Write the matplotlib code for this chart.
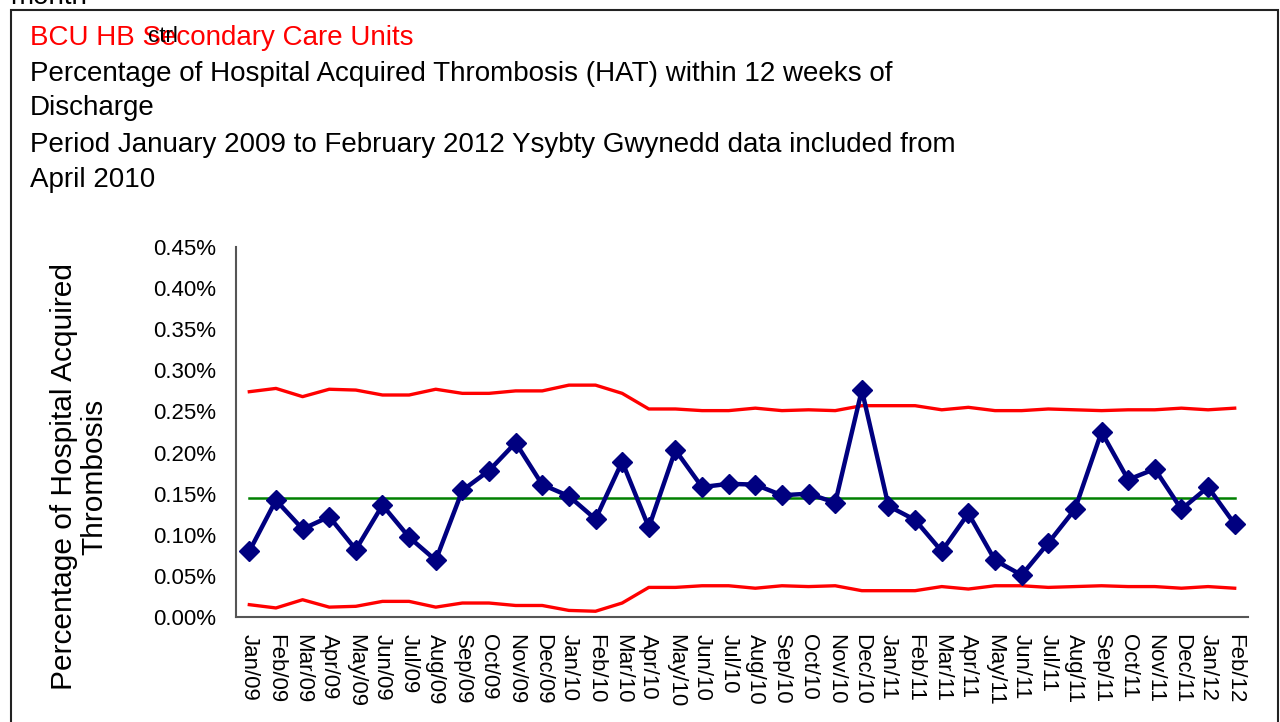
import matplotlib
matplotlib.use("Agg")
import matplotlib.pyplot as plt
from matplotlib.ticker import PercentFormatter, FixedLocator
from matplotlib.patches import Rectangle

plt.rcParams['font.family'] = ['Liberation Sans', 'DejaVu Sans']

months = ["Jan/09", "Feb/09", "Mar/09", "Apr/09", "May/09", "Jun/09", "Jul/09", "Aug/09",
          "Sep/09", "Oct/09", "Nov/09", "Dec/09", "Jan/10", "Feb/10", "Mar/10", "Apr/10",
          "May/10", "Jun/10", "Jul/10", "Aug/10", "Sep/10", "Oct/10", "Nov/10", "Dec/10",
          "Jan/11", "Feb/11", "Mar/11", "Apr/11", "May/11", "Jun/11", "Jul/11", "Aug/11",
          "Sep/11", "Oct/11", "Nov/11", "Dec/11", "Jan/12", "Feb/12"]

hat_pct = [0.080, 0.142, 0.107, 0.122, 0.082, 0.136, 0.097, 0.069,
           0.154, 0.178, 0.212, 0.161, 0.147, 0.119, 0.189, 0.109,
           0.203, 0.158, 0.162, 0.161, 0.148, 0.150, 0.139, 0.276,
           0.135, 0.118, 0.080, 0.126, 0.069, 0.051, 0.090, 0.131,
           0.225, 0.167, 0.180, 0.131, 0.158, 0.113]

centre_line = 0.1447

ucl = [0.274, 0.278, 0.268, 0.277, 0.276, 0.270, 0.270, 0.277,
       0.272, 0.272, 0.275, 0.275, 0.282, 0.282, 0.272, 0.253,
       0.253, 0.251, 0.251, 0.254, 0.251, 0.252, 0.251, 0.257,
       0.257, 0.257, 0.252, 0.255, 0.251, 0.251, 0.253, 0.252,
       0.251, 0.252, 0.252, 0.254, 0.252, 0.254]

lcl = [0.015, 0.011, 0.021, 0.012, 0.013, 0.019, 0.019, 0.012,
       0.017, 0.017, 0.014, 0.014, 0.008, 0.007, 0.017, 0.036,
       0.036, 0.038, 0.038, 0.035, 0.038, 0.037, 0.038, 0.032,
       0.032, 0.032, 0.037, 0.034, 0.038, 0.038, 0.036, 0.037,
       0.038, 0.037, 0.037, 0.035, 0.037, 0.035]

y_ticks = [0.00, 0.05, 0.10, 0.15, 0.20, 0.25, 0.30, 0.35, 0.40, 0.45]

title_red = "BCU HB Secondary Care Units"
title_lines = ["Percentage of Hospital Acquired Thrombosis (HAT) within 12 weeks of",
               "Discharge",
               "Period January 2009 to February 2012 Ysybty Gwynedd data included from",
               "April 2010"]
y_label = "Percentage of Hospital Acquired\nThrombosis"

W, H = 1280, 722
fig = plt.figure(figsize=(W / 100, H / 100), dpi=100)
fig.patch.set_facecolor("white")

# outer border
fig.patches.append(Rectangle((11 / W, -0.05), (1278 - 11) / W, 1.05 - 10 / H,
                             transform=fig.transFigure, fill=False,
                             edgecolor="#222222", linewidth=1.5))

ax = fig.add_axes([236 / W, 1 - 617 / H, (1248 - 236) / W, (617 - 247) / H])
x = list(range(len(months)))

ax.plot(x, ucl, color="#FF0000", linewidth=2.4, zorder=2)
ax.plot(x, lcl, color="#FF0000", linewidth=2.4, zorder=2)
ax.plot([x[0], x[-1]], [centre_line, centre_line], color="#008000", linewidth=1.8, zorder=2)
ax.plot(x, hat_pct, color="#000080", linewidth=3.2, marker="D", markersize=10,
        markerfacecolor="#000080", markeredgecolor="#000080", zorder=3)

ax.set_xlim(-0.5, len(months) - 0.5)
ax.set_ylim(0, 0.45)
ax.yaxis.set_major_locator(FixedLocator(y_ticks))
ax.yaxis.set_major_formatter(PercentFormatter(xmax=100, decimals=2))
ax.set_xticks(x)
ax.set_xticklabels(months, rotation=270, fontsize=16)
ax.tick_params(axis="both", length=0, colors="black")
ax.tick_params(axis="y", labelsize=16, pad=14)
ax.tick_params(axis="x", pad=12)
for s in ["top", "right"]:
    ax.spines[s].set_visible(False)
for s in ["left", "bottom"]:
    ax.spines[s].set_color("#555555")
    ax.spines[s].set_linewidth(1.5)

fig.text(79 / W, 1 - 477 / H, y_label, rotation=90, ha="center", va="center",
         fontsize=21.5, multialignment="center", linespacing=1.1)

# titles
fig.text(30 / W, 1 - 38 / H, title_red, color="#FF0000", fontsize=20, va="center", ha="left")
ys = [74, 108, 145, 180]
for t, yy in zip(title_lines, ys):
    fig.text(30 / W, 1 - yy / H, t, color="black", fontsize=20, va="center", ha="left")
fig.text(148 / W, 1 - 37 / H, "ctrl", color="black", fontsize=16, va="center", ha="left")
fig.text(10 / W, 1 - 4 / H, "month", color="black", fontsize=20, va="baseline", ha="left")

fig.savefig("out.png", dpi=100)
